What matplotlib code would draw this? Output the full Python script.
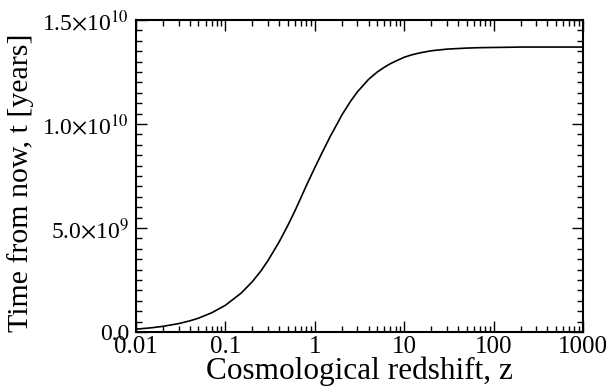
# -*- coding: utf-8 -*-

import matplotlib
matplotlib.use('Agg')
import matplotlib.pyplot as plt
from matplotlib.ticker import FixedLocator, FixedFormatter, LogLocator, MultipleLocator, NullFormatter

# redshift and lookback time (years)
z = [0.01, 0.015, 0.02, 0.03, 0.04, 0.05, 0.07, 0.1, 0.15, 0.2, 0.25, 0.3,
     0.4, 0.5, 0.6, 0.7, 0.8, 1.0, 1.2, 1.5, 1.8, 2.0, 2.5, 3.0, 4.0, 5.0,
     6.0, 7.0, 8.0, 10.0, 12.0, 15.0, 20.0, 30.0, 50.0, 70.0, 100.0, 150.0,
     200.0, 500.0, 1000.0]
t_gyr = [0.137, 0.205, 0.272, 0.405, 0.536, 0.666, 0.920, 1.286, 1.87, 2.42,
         2.94, 3.44, 4.34, 5.13, 5.83, 6.46, 7.02, 7.90, 8.60, 9.43, 10.05,
         10.42, 11.08, 11.55, 12.15, 12.50, 12.73, 12.90, 13.02, 13.21, 13.32,
         13.42, 13.52, 13.60, 13.65, 13.67, 13.68, 13.69, 13.70, 13.70, 13.70]
t = [v * 1e9 for v in t_gyr]

x_ticks = [0.01, 0.1, 1, 10, 100, 1000]
x_labels = ['0.01', '0.1', '1', '10', '100', '1000']
y_ticks = [0, 5e9, 1e10, 1.5e10]
y_labels = ['0.0', r'5.0$\times$10$^{9}$', r'1.0$\times$10$^{10}$', r'1.5$\times$10$^{10}$']

plt.rcParams['font.family'] = ['Liberation Serif', 'DejaVu Serif']
plt.rcParams['mathtext.fontset'] = 'stix'

fig = plt.figure(figsize=(6.08, 3.87), dpi=100)
ax = fig.add_axes([0.2237, 0.1421, 0.7352, 0.8062])
ax.plot(z, t, color='black', lw=1.2)

ax.set_xscale('log')
ax.set_xlim(0.01, 1000)
ax.set_ylim(0, 1.5e10)

ax.xaxis.set_major_locator(FixedLocator(x_ticks))
ax.xaxis.set_major_formatter(FixedFormatter(x_labels))
ax.xaxis.set_minor_locator(LogLocator(base=10, subs=range(2, 10)))
ax.xaxis.set_minor_formatter(NullFormatter())
ax.yaxis.set_major_locator(FixedLocator(y_ticks))
ax.yaxis.set_major_formatter(FixedFormatter(y_labels))
ax.yaxis.set_minor_locator(MultipleLocator(5e8))

ax.tick_params(which='both', direction='in', top=True, right=True, width=1)
ax.tick_params(which='major', length=8)
ax.tick_params(which='minor', length=4)
ax.tick_params(axis='x', pad=3, labelsize=18)
ax.tick_params(axis='y', pad=5, labelsize=17)
for s in ax.spines.values():
    s.set_linewidth(1.5)

ax.set_xlabel('Cosmological redshift, z', fontsize=22.5)
ax.set_ylabel('Time from now, t [years]', fontsize=21.5)
ax.xaxis.set_label_coords(0.5, -0.08)
ax.yaxis.set_label_coords(-0.228, 0.478)

fig.savefig('out.png', dpi=100)
